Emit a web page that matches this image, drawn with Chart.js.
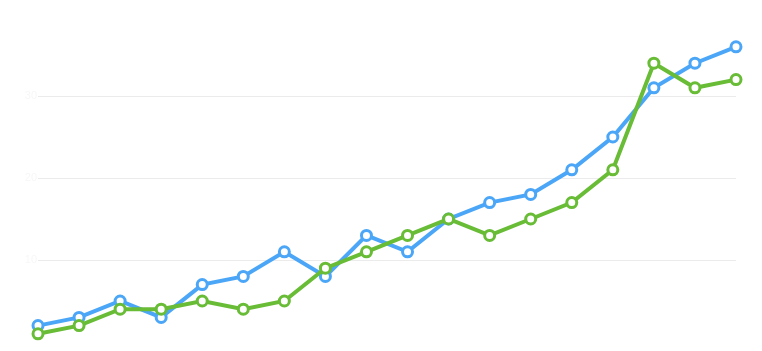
<!DOCTYPE html>
<html>
<head>
<meta charset="utf-8">
<script src="https://cdn.jsdelivr.net/npm/chart.js@4/dist/chart.umd.min.js"></script>
<style>
html,body{margin:0;padding:0;background:#fff;}
canvas{display:block;}
</style>
</head>
<body>
<canvas id="c" width="762" height="351"></canvas>
<script>
const categories = ['1','2','3','4','5','6','7','8','9','10','11','12','13','14','15','16','17','18'];
const blueValues = [2,3,5,3,7,8,11,8,13,11,15,17,18,21,25,31,34,36];
const greenValues = [1,2,4,4,5,4,5,9,11,13,15,13,15,17,21,34,31,32];
const yMin = 0;
const yMax = 40;
const yTicks = [10,20,30];

const BLUE = '#4ba6f7';
const GREEN = '#68bc36';

new Chart(document.getElementById('c'), {
  type: 'line',
  data: {
    labels: categories,
    datasets: [
      {
        data: greenValues,
        borderColor: GREEN,
        backgroundColor: '#ffffff',
        pointBackgroundColor: '#ffffff',
        pointBorderColor: GREEN,
        borderWidth: 4,
        pointRadius: 5,
        pointBorderWidth: 3,
        tension: 0,
        clip: false
      },
      {
        data: blueValues,
        borderColor: BLUE,
        backgroundColor: '#ffffff',
        pointBackgroundColor: '#ffffff',
        pointBorderColor: BLUE,
        borderWidth: 4,
        pointRadius: 5,
        pointBorderWidth: 3,
        tension: 0,
        clip: false
      }
    ]
  },
  options: {
    responsive: false,
    animation: false,
    events: [],
    layout: { padding: { top: 14, bottom: 9, right: 26, left: 0 } },
    plugins: { legend: { display: false }, tooltip: { enabled: false } },
    scales: {
      x: { display: false },
      y: {
        min: yMin,
        max: yMax,
        afterBuildTicks: (s) => { s.ticks = yTicks.map(v => ({ value: v })); },
        afterFit: (s) => { s.width = 38; },
        border: { display: false },
        grid: {
          drawTicks: false,
          lineWidth: 1,
          color: '#ebebeb'
        },
        ticks: {
          color: '#f7f7f7',
          font: { family: 'Helvetica, Arial, sans-serif', size: 11 },
          padding: 1
        }
      }
    }
  }
});
</script>
</body>
</html>
